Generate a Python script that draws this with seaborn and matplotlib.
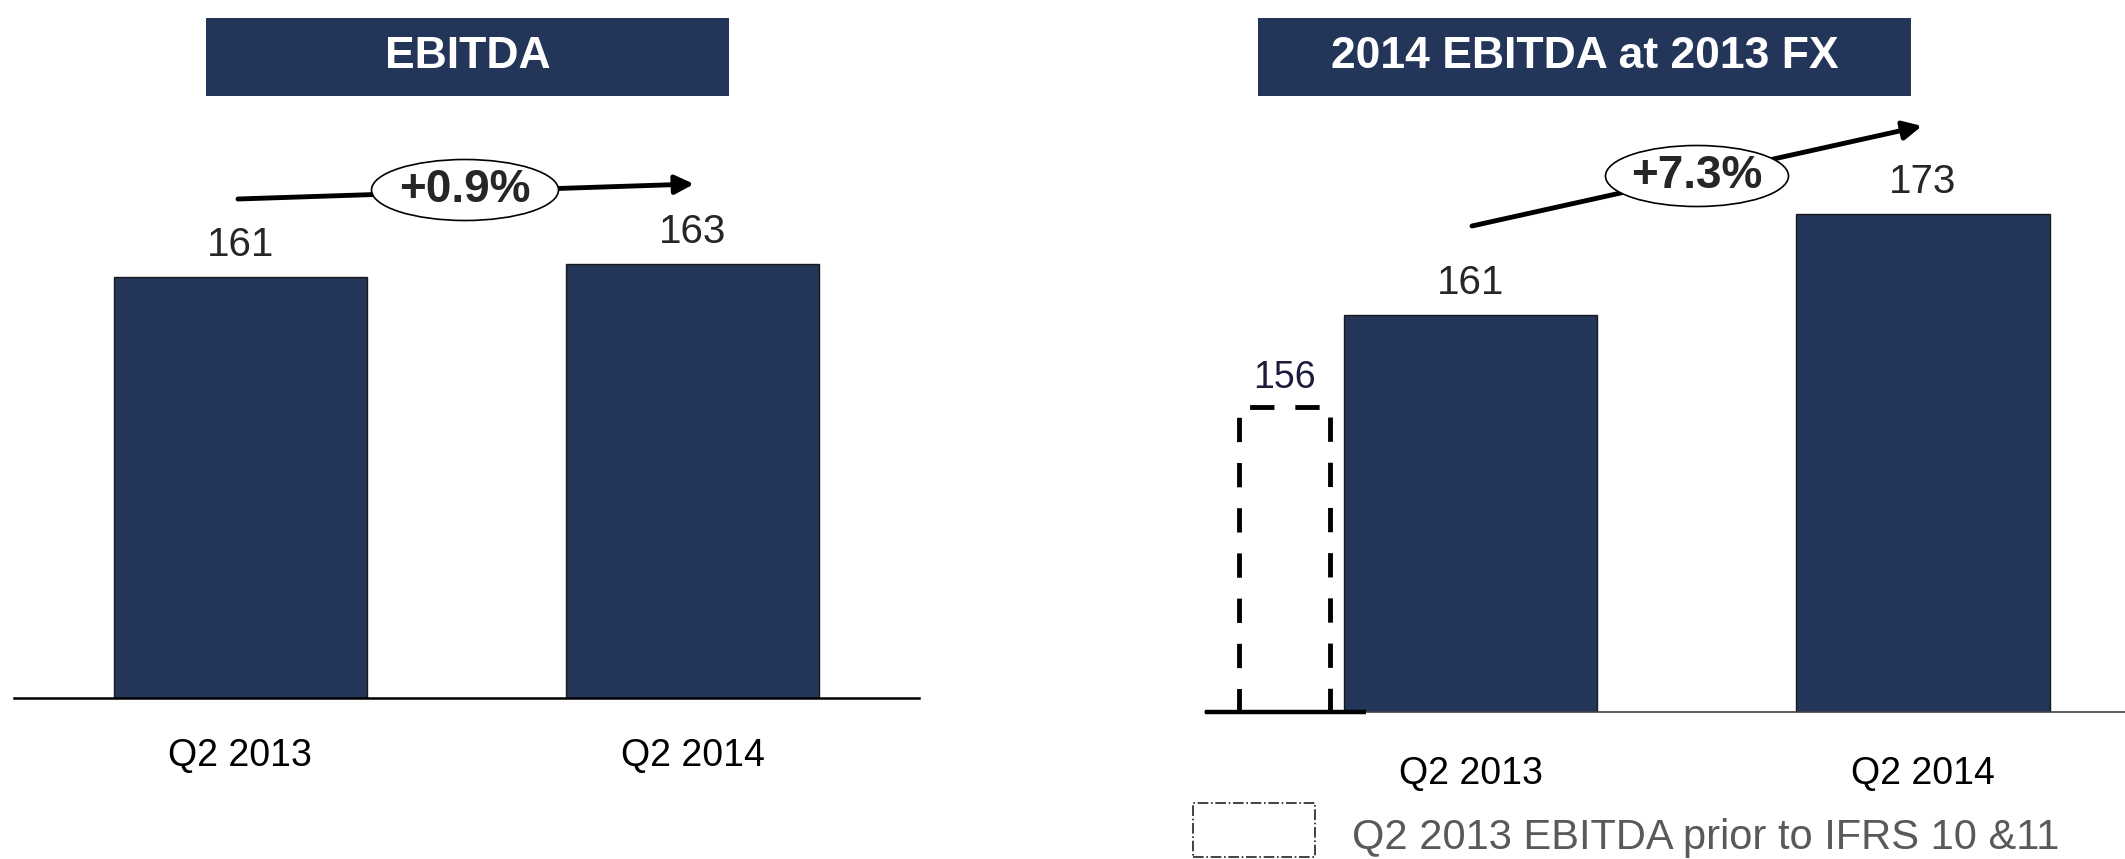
import matplotlib
matplotlib.use("Agg")
import matplotlib.pyplot as plt
import seaborn as sns
from matplotlib.patches import Rectangle, Ellipse, FancyArrowPatch

# data
categories = ["Q2 2013", "Q2 2014"]
ebitda = [161, 163]
ebitda_fx = [161, 173]
prior_ifrs = [156]
titles = ["EBITDA", "2014 EBITDA at 2013 FX"]
growth = ["+0.9%", "+7.3%"]
legend_label = "Q2 2013 EBITDA prior to IFRS 10 &11"

NAVY = "#233558"
W, H = 2125, 859

sns.set_theme(style="white")
plt.rcParams["font.family"] = ["Liberation Sans", "DejaVu Sans"]

fig = plt.figure(figsize=(W / 100, H / 100), dpi=100)


def fx(x):
    return x / W


def fy(y):
    return 1 - y / H


# left panel
ax1 = fig.add_axes([fx(14), fy(698), 905 / W, 598 / H])
sns.barplot(x=categories, y=ebitda, ax=ax1, color=NAVY, saturation=1,
            width=0.56, edgecolor="#1a1a1a", linewidth=1)
ax1.set_xlim(-0.5, 1.5)
ax1.set_ylim(96.2, 188.2)
ax1.bar_label(ax1.containers[0], padding=9, fontsize=29)

# right panel
ax2 = fig.add_axes([fx(1205), fy(712), 920 / W, 612 / H])
sns.barplot(x=categories, y=ebitda_fx, ax=ax2, color=NAVY, saturation=1,
            width=0.56, edgecolor="#1a1a1a", linewidth=1)
ax2.set_xlim(-0.588, 1.447)
ax2.set_ylim(113.8, 186.5)
ax2.bar_label(ax2.containers[0], padding=9, fontsize=29)

# dashed overlay bar (separate shape in the original, own scale)
ax3 = ax2.twinx()
ax3.set_ylim(0, 313)
dashed = ax3.bar([-0.412], prior_ifrs, width=0.2, fill=False,
                 edgecolor="black", linewidth=3.5,
                 linestyle=(0, (5, 4.3)))
ax3.bar_label(dashed, padding=8, fontsize=27, color="#1c1c3c")
ax3.set_yticks([])
for s in ax3.spines.values():
    s.set_visible(False)

for ax, pad in [(ax1, 29), (ax2, 32)]:
    ax.set_yticks([])
    ax.tick_params(axis="x", length=0, pad=pad, labelsize=27, colors="black")
    for side in ["left", "right", "top"]:
        ax.spines[side].set_visible(False)

ax1.spines["bottom"].set_color("black")
ax1.spines["bottom"].set_linewidth(1.8)
ax2.spines["bottom"].set_color("#404040")
ax2.spines["bottom"].set_linewidth(1.2)
ax2.hlines(113.8, -0.588, -0.232, color="black", linewidth=3.2, clip_on=False, zorder=5)

# title boxes
for (x0, x1), title in zip([(206, 729), (1258, 1911)], titles):
    fig.add_artist(Rectangle((fx(x0), fy(96)), (x1 - x0) / W, 78 / H,
                             transform=fig.transFigure, facecolor=NAVY,
                             edgecolor="none"))
    fig.text(fx((x0 + x1) / 2), fy(57), title, color="white", fontsize=32,
             fontweight="bold", ha="center", va="center")

# growth arrows with ellipses
arrows = [((238, 199), (694, 184), (465, 190), 187),
          ((1472, 226), (1922, 126), (1697, 176), 183)]
for (start, tip, centre, ew), txt in zip(arrows, growth):
    fig.add_artist(FancyArrowPatch((fx(start[0]), fy(start[1])), (fx(tip[0]), fy(tip[1])),
                                   transform=fig.transFigure, arrowstyle="-|>",
                                   mutation_scale=28, linewidth=3.5, color="black",
                                   shrinkA=0, shrinkB=0, zorder=2))
    fig.add_artist(Ellipse((fx(centre[0]), fy(centre[1])), ew / W, 61 / H,
                           transform=fig.transFigure, facecolor="white",
                           edgecolor="black", linewidth=1.2, zorder=3))
    fig.text(fx(centre[0]), fy(centre[1]), txt, fontsize=33, fontweight="bold",
             ha="center", va="center", zorder=4)

# legend
fig.add_artist(Rectangle((fx(1193), fy(857)), 122 / W, 54 / H,
                         transform=fig.transFigure, fill=False,
                         edgecolor="#222222", linewidth=1.2, linestyle="-."))
fig.text(fx(1352), fy(838), legend_label, fontsize=30, color="#595959",
         ha="left", va="center")

fig.savefig("out.png", dpi=100)
